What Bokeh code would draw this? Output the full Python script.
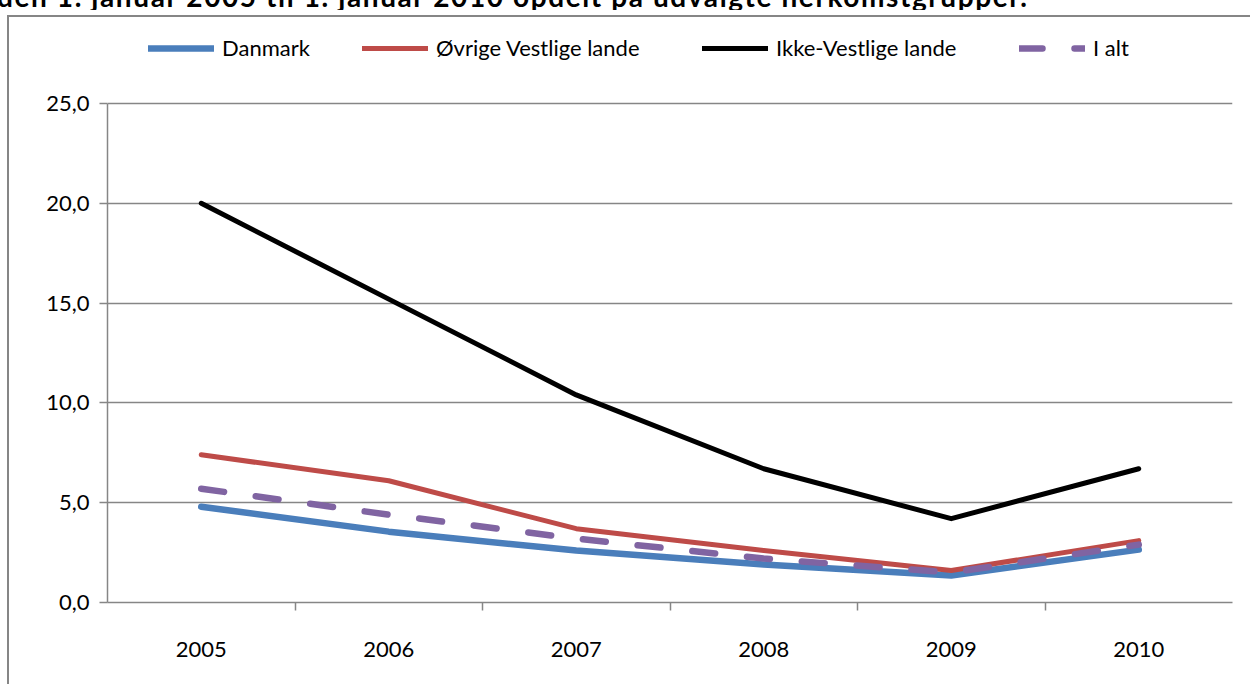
from bokeh.plotting import figure
from bokeh.layouts import column
from bokeh.models import (FactorRange, Range1d, CategoricalAxis, FixedTicker,
                          Legend, LegendItem, InlineStyleSheet, Div)
from bokeh.embed import file_html
from bokeh.resources import INLINE

# ---- data ----
title_text = "den 1. januar 2005 til 1. januar 2010 opdelt på udvalgte herkomstgrupper."
years = ["2005", "2006", "2007", "2008", "2009", "2010"]
danmark = [4.8, 3.55, 2.6, 1.9, 1.35, 2.65]
ovrige_vestlige = [7.4, 6.1, 3.7, 2.6, 1.6, 3.1]
ikke_vestlige = [20.0, 15.2, 10.4, 6.7, 4.2, 6.7]
i_alt = [5.7, 4.4, 3.2, 2.2, 1.5, 2.9]
series_names = ["Danmark", "Øvrige Vestlige lande", "Ikke-Vestlige lande", "I alt"]
y_ticks = [0, 5, 10, 15, 20, 25]
y_tick_labels = ["0,0", "5,0", "10,0", "15,0", "20,0", "25,0"]

FONT = "Lato"
GRAY = "#868686"
FS = "22px"

# layout (pixels)
W = 1250
TITLE_H = 10
H = 684 - TITLE_H
LEFT, RIGHT, TOP, BOTTOM = 107, 18, 20, 82   # frame borders inside the figure
AXIS_TOP = 103 - TITLE_H                      # where 25,0 sits
frame_h = H - TOP - BOTTOM
y_top = y_ticks[-1] * frame_h / (H - BOTTOM - AXIS_TOP)

# the (cropped) heading line above the chart box
title = Div(text=title_text, width=W, height=TITLE_H, margin=(0, 0, 0, 0),
            styles={"overflow": "hidden"},
            stylesheets=[InlineStyleSheet(css="""
:host { overflow: hidden; }
.bk-clearfix, div { position: relative; top: -15px; left: -3px; white-space: nowrap;
  font-family: Lato; font-weight: bold; font-size: 28px; letter-spacing: 1.6px;
  line-height: 22px; color: black; }
""")])

p = figure(width=W, height=H, margin=(0, 0, 0, 0),
           x_range=FactorRange(*years, range_padding=0),
           y_range=Range1d(y_ticks[0], y_top),
           output_backend="svg", toolbar_location=None,
           x_axis_location=None,
           min_border_left=LEFT, min_border_right=RIGHT,
           min_border_top=TOP, min_border_bottom=BOTTOM)
p.outline_line_color = None
p.background_fill_color = "white"
p.border_fill_color = "white"

# outer chart-area border (top and left edges visible in the reference)
p.stylesheets = [InlineStyleSheet(css="""
:host { position: relative; }
:host::after {
  content: ""; position: absolute; left: 7px; top: 5px; right: -4px; bottom: -4px;
  border-left: 2px solid #868686; border-top: 2px solid #868686;
  pointer-events: none; z-index: 50;
}
""")]

# y axis
yax = p.yaxis[0]
yax.ticker = FixedTicker(ticks=y_ticks)
yax.bounds = (y_ticks[0], y_ticks[-1])
yax.major_label_overrides = {t: l for t, l in zip(y_ticks, y_tick_labels)}
yax.axis_line_color = GRAY
yax.axis_line_width = 1.5
yax.major_tick_line_color = GRAY
yax.major_tick_line_width = 1.5
yax.major_tick_out = 8
yax.major_tick_in = 0
yax.minor_tick_line_color = None
yax.major_label_standoff = 10
yax.major_label_text_font = FONT
yax.major_label_text_font_size = FS
yax.major_label_text_color = "black"

# grid
p.ygrid.ticker = FixedTicker(ticks=y_ticks)
p.ygrid.grid_line_color = GRAY
p.ygrid.grid_line_width = 1.5
p.xgrid.visible = False

# x axis: tick marks between the categories (helper categorical range whose
# factors sit on the category boundaries), labels on the main categorical axis
boundaries = ["b%d" % i for i in range(len(years) + 1)]
p.extra_x_ranges = {"bounds": FactorRange(*boundaries, range_padding=-0.5,
                                          range_padding_units="absolute")}
tick_ax = CategoricalAxis(x_range_name="bounds")
tick_ax.major_label_text_font_size = "1px"
tick_ax.major_label_text_alpha = 0
tick_ax.major_label_standoff = 0
tick_ax.axis_line_color = GRAY
tick_ax.axis_line_width = 1.5
tick_ax.major_tick_line_color = GRAY
tick_ax.major_tick_line_width = 1.5
tick_ax.major_tick_out = 8
tick_ax.major_tick_in = 0
tick_ax.minor_tick_line_color = None
p.add_layout(tick_ax, "below")

cat_ax = CategoricalAxis()
cat_ax.axis_line_color = None
cat_ax.major_tick_line_color = None
cat_ax.minor_tick_line_color = None
cat_ax.major_tick_out = 0
cat_ax.major_tick_in = 0
cat_ax.major_label_standoff = 31
cat_ax.major_label_text_font = FONT
cat_ax.major_label_text_font_size = FS
cat_ax.major_label_text_color = "black"
p.add_layout(cat_ax, "below")

# lines
r1 = p.line(years, danmark, line_color="#4A7EBB", line_width=6.5,
            line_cap="round", line_join="round")
r2 = p.line(years, ovrige_vestlige, line_color="#BE4B48", line_width=5,
            line_cap="round", line_join="round")
r3 = p.line(years, ikke_vestlige, line_color="#000000", line_width=5,
            line_cap="round", line_join="round")
r4 = p.line(years, i_alt, line_color="#8064A2", line_width=6.5,
            line_dash="23 32", line_cap="round", line_join="round")

# legends (one per entry so each can sit where the reference has it);
# location = bottom-left corner, measured from the frame's bottom-left
LEG_BOTTOM = 61 - TITLE_H
for r, name, gx in zip([r1, r2, r3, r4], series_names, [148, 362, 702, 1019]):
    leg = Legend(items=[LegendItem(label=name, renderers=[r])],
                 location=(gx - LEFT, H - BOTTOM - LEG_BOTTOM), orientation="horizontal",
                 glyph_width=66, glyph_height=20, label_standoff=8,
                 label_height=20, padding=0, margin=0, spacing=0,
                 border_line_alpha=0, background_fill_alpha=0,
                 label_text_font=FONT, label_text_font_size=FS,
                 label_text_color="black")
    p.add_layout(leg, "center")

layout = column(title, p, spacing=0)
open("out.html", "w").write(file_html(layout, INLINE))
